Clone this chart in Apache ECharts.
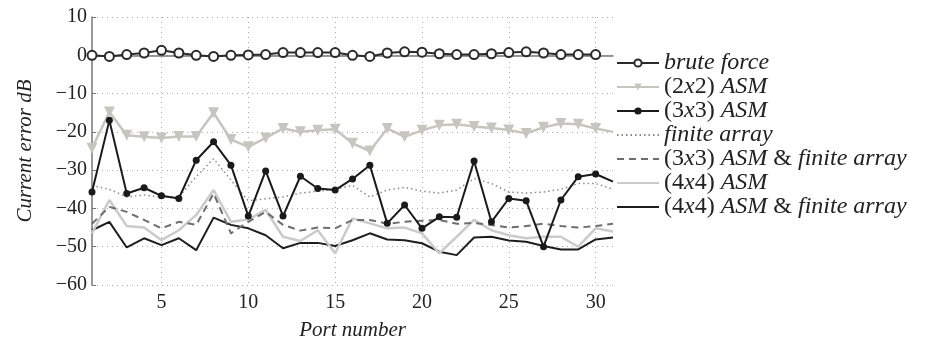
<!DOCTYPE html>
<html><head><meta charset="utf-8">
<script src="https://cdn.jsdelivr.net/npm/echarts@6/dist/echarts.min.js"></script>
<style>html,body{margin:0;padding:0;background:#fff}#c{width:927px;height:339px}</style>
</head><body><div id="c"></div>
<script>
const ports = [1,2,3,4,5,6,7,8,9,10,11,12,13,14,15,16,17,18,19,20,21,22,23,24,25,26,27,28,29,30,31];
const xTicks = [5,10,15,20,25,30];
const bruteForce = [0,-0.3,0.2,0.6,1.3,0.6,0,-0.3,0,0.1,0.2,0.7,0.7,0.7,0.7,0,-0.3,0.6,0.9,0.8,0.4,0.2,0.2,0.4,0.7,0.9,0.6,0.2,0.2,0.2];
const asm2x2 = [-24.3,-14.8,-20.9,-21.3,-21.6,-21.2,-21.2,-15,-22,-23.9,-21.6,-19.1,-20,-19.6,-19.3,-23,-25,-19.1,-21.3,-19.6,-18.3,-18,-18.6,-19,-19.5,-20.4,-18.8,-17.8,-18,-19.1,-20];
const asm3x3 = [-35.7,-17,-36.1,-34.6,-36.7,-37.4,-27.4,-22.6,-28.7,-42,-30.2,-42,-31.6,-34.8,-35.2,-32.3,-28.7,-43.9,-39.1,-45.2,-42.2,-42.3,-27.6,-43.5,-37.4,-38,-50,-37.8,-31.7,-31,-33];
const finiteArray = [-34,-35,-37,-36.5,-37,-37,-31.7,-27,-32.6,-38,-37.5,-37,-36,-35.5,-35,-34,-37,-35.2,-34.5,-35.5,-36,-35.2,-32.2,-33.5,-35.7,-36,-35.7,-35,-33.5,-33.5,-35];
const asm3x3Finite = [-44,-39.6,-40.9,-43,-45.2,-43.5,-44.3,-36.1,-46.5,-43.5,-40.9,-44.3,-45.8,-45,-45.2,-43,-43,-44,-43.5,-43.2,-43,-44,-43.8,-44.3,-45,-44.6,-44,-44.6,-45,-44.6,-44];
const asm4x4 = [-46.5,-37.8,-44.6,-45,-48.3,-45.7,-41.7,-35.2,-43.5,-42.9,-40.4,-47.4,-48.5,-45.7,-51.7,-42.6,-43.9,-45.2,-45,-46.5,-51.7,-47.4,-43,-45.7,-47,-47.8,-47.4,-47.4,-50,-45.2,-46];
const asm4x4Finite = [-45.7,-43.5,-50.2,-47.8,-49.6,-47.8,-50.9,-42.4,-44.3,-45.2,-47,-50.4,-49,-49,-49.8,-48.3,-46.5,-48.1,-48.3,-49.1,-51.3,-52.2,-47.6,-47.4,-48.4,-48.7,-49.8,-50.7,-50.7,-48.1,-47.6];

const FONT = '"Liberation Serif", "DejaVu Serif", serif';
function pairs(vals, hideLast) {
  return vals.map((v, i) => {
    const item = { value: [ports[i], v] };
    if (hideLast && i === 30) item.symbol = 'none';
    return item;
  });
}
const legendRich = {
  'brute force': '{i|brute force}',
  '(2x2) ASM': '{n|(2}{i|x}{n|2) }{i|ASM}',
  '(3x3) ASM': '{n|(3}{i|x}{n|3) }{i|ASM}',
  'finite array': '{i|finite array}',
  '(3x3) ASM & finite array': '{n|(3}{i|x}{n|3) }{i|ASM}{n| & }{i|finite array}',
  '(4x4) ASM': '{n|(4}{i|x}{n|4) }{i|ASM}',
  '(4x4) ASM & finite array': '{n|(4}{i|x}{n|4) }{i|ASM}{n| & }{i|finite array}'
};
const noMarker = ['finite array', '(3x3) ASM & finite array', '(4x4) ASM', '(4x4) ASM & finite array'];
const legendData = Object.keys(legendRich).map(n => noMarker.includes(n)
  ? { name: n, itemStyle: { opacity: 0 } } : { name: n });
const chart = echarts.init(document.getElementById('c'), null, { renderer: 'canvas' });
chart.setOption({
  animation: false,
  backgroundColor: '#fff',
  grid: { left: 92, right: 314, top: 17, bottom: 54, containLabel: false, outerBoundsMode: 'none' },
  legend: {
    orient: 'vertical', left: 611, top: 46,
    itemWidth: 42, itemHeight: 9, itemGap: 0,
    data: legendData,
    formatter: name => legendRich[name],
    textStyle: {
      color: '#222',
      rich: {
        i: { fontFamily: FONT, fontSize: 24, fontStyle: 'italic', color: '#222' },
        n: { fontFamily: FONT, fontSize: 24, fontStyle: 'normal', color: '#222' }
      }
    }
  },
  xAxis: {
    type: 'value', min: 1, max: 31,
    name: 'Port number', nameLocation: 'middle', nameGap: 35,
    nameTextStyle: { fontFamily: FONT, fontSize: 21, fontStyle: 'italic', color: '#222' },
    axisLine: { show: true, lineStyle: { color: '#777', width: 1.5 } },
    axisTick: { show: true, inside: true, length: 4, customValues: xTicks, lineStyle: { color: '#777' } },
    axisLabel: { customValues: xTicks, fontFamily: FONT, fontSize: 20, color: '#222', margin: 8 },
    splitLine: { show: true, lineStyle: { type: [1, 4], color: '#aaa', width: 1 } }
  },
  yAxis: {
    type: 'value', min: -60, max: 10, interval: 10,
    name: 'Current error dB', nameLocation: 'middle', nameGap: 56, nameRotate: 90,
    nameTextStyle: { fontFamily: FONT, fontSize: 21, fontStyle: 'italic', color: '#222' },
    axisLine: { show: true, lineStyle: { color: '#777', width: 1.5 } },
    axisTick: { show: true, inside: true, length: 4, lineStyle: { color: '#777' } },
    axisLabel: { fontFamily: FONT, fontSize: 20, color: '#222', margin: 5,
      formatter: v => String(v).replace('-', '\u2212') },
    splitLine: { show: true, lineStyle: { type: [1, 4], color: '#aaa', width: 1 } }
  },
  series: [
    { name: '(4x4) ASM & finite array', type: 'line', data: pairs(asm4x4Finite), showSymbol: false, symbol: 'none',
      lineStyle: { color: '#1e1e1e', width: 2 }, itemStyle: { color: '#1e1e1e' }, z: 2 },
    { name: '(4x4) ASM', type: 'line', data: pairs(asm4x4), showSymbol: false, symbol: 'none',
      lineStyle: { color: '#cbcbcb', width: 2.5 }, itemStyle: { color: '#cbcbcb' }, z: 2 },
    { name: '(3x3) ASM & finite array', type: 'line', data: pairs(asm3x3Finite), showSymbol: false, symbol: 'none',
      lineStyle: { color: '#6e6e6e', width: 2, type: [7, 5] }, itemStyle: { color: '#6e6e6e' }, z: 2 },
    { name: 'finite array', type: 'line', data: pairs(finiteArray), showSymbol: false, symbol: 'none',
      lineStyle: { color: '#8a8a8a', width: 1.5, type: [1.5, 3] }, itemStyle: { color: '#8a8a8a' }, z: 2 },
    { name: '(3x3) ASM', type: 'line', data: pairs(asm3x3, true), symbol: 'circle', symbolSize: 7,
      lineStyle: { color: '#1a1a1a', width: 2 }, itemStyle: { color: '#1a1a1a' }, z: 3 },
    { name: '(2x2) ASM', type: 'line', data: pairs(asm2x2, true), symbol: 'triangle', symbolRotate: 180, symbolSize: 11,
      lineStyle: { color: '#c6c6be', width: 2.5 }, itemStyle: { color: '#c6c6be' }, z: 3 },
    { name: 'brute force', type: 'line', data: pairs(bruteForce), symbol: 'circle', symbolSize: 9,
      lineStyle: { color: '#2a2a2a', width: 2 }, itemStyle: { color: '#fff', borderColor: '#2a2a2a', borderWidth: 2 }, z: 4 }
  ]
});
</script></body></html>
